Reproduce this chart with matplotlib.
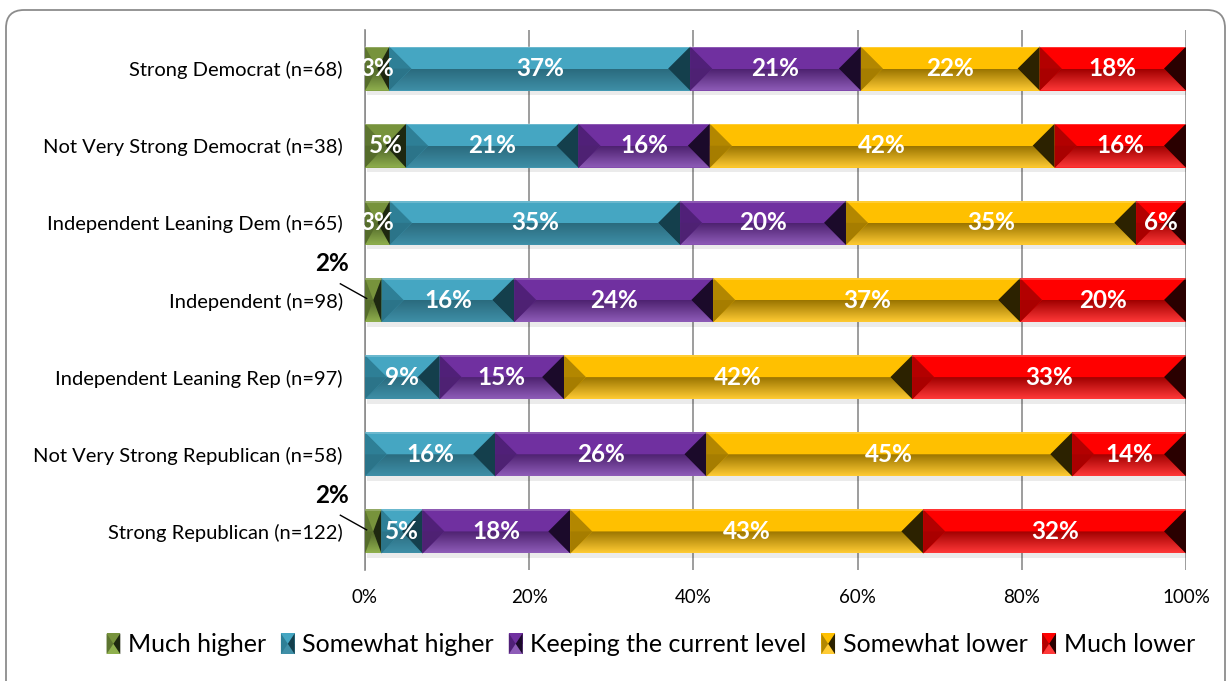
import numpy as np
import matplotlib
matplotlib.use("Agg")
import matplotlib.pyplot as plt
from matplotlib.patches import Polygon, FancyBboxPatch, Patch
from matplotlib.colors import LinearSegmentedColormap
from matplotlib.legend_handler import HandlerBase

plt.rcParams['font.family'] = ['Lato', 'DejaVu Sans']

categories = ['Strong Democrat (n=68)', 'Not Very Strong Democrat (n=38)',
              'Independent Leaning Dem (n=65)', 'Independent (n=98)',
              'Independent Leaning Rep (n=97)', 'Not Very Strong Republican (n=58)',
              'Strong Republican (n=122)']
series = ['Much higher', 'Somewhat higher', 'Keeping the current level',
          'Somewhat lower', 'Much lower']
much_higher = [3, 5, 3, 2, 0, 0, 2]
somewhat_higher = [37, 21, 35, 16, 9, 16, 5]
keeping = [21, 16, 20, 24, 15, 26, 18]
somewhat_lower = [22, 42, 35, 37, 42, 45, 43]
much_lower = [18, 16, 6, 20, 33, 14, 32]
ticks = [0, 20, 40, 60, 80, 100]

# (top, bottom dark, bottom light, left bevel, right bevel)
colors = [
    ('#77933C', '#4F6428', '#8FB04E', '#5D7530', '#1E2810'),
    ('#45A6C2', '#2A6B7E', '#3F8FA7', '#2E7F96', '#143F4C'),
    ('#7030A0', '#4E2270', '#8E5CB8', '#502078', '#1B0A2A'),
    ('#FFC000', '#9A7400', '#FFCB33', '#B38700', '#2C2200'),
    ('#FF0000', '#A00000', '#FF3838', '#B30000', '#2A0000'),
]

data = np.array([much_higher, somewhat_higher, keeping, somewhat_lower, much_lower], float)
shares = data / data.sum(axis=0) * 100
lefts = np.vstack([np.zeros(len(categories)), np.cumsum(shares, axis=0)[:-1]])

fig = plt.figure(figsize=(12.3, 6.81), dpi=100)

# background frame
bg = fig.add_axes([0, 0, 1, 1], zorder=-5)
bg.set_xlim(0, 1230)
bg.set_ylim(681, 0)
bg.axis('off')
bg.add_patch(FancyBboxPatch((6, 10), 1219, 720, boxstyle='round,pad=0,rounding_size=18',
                            fc='white', ec='#8C8C8C', lw=1.3))

ax = fig.add_axes([365 / 1230, 1 - 570 / 681, 821 / 1230, 540 / 681])
ax.patch.set_alpha(0)
y = np.arange(len(categories))
h = 0.57
bev = 2.68

for i in range(len(series)):
    ctop, cdark, clight, cl, cr = colors[i]
    cmap = LinearSegmentedColormap.from_list('g%d' % i, [cdark, clight])
    bars = ax.barh(y, shares[i], left=lefts[i], height=h, color=ctop, zorder=3)
    for j, b in enumerate(bars):
        x0 = b.get_x()
        x1 = x0 + b.get_width()
        if x1 - x0 <= 0:
            continue
        yc = y[j]
        yt = yc - h / 2
        yb = yc + h / 2
        w = min(bev, (x1 - x0) / 2)
        # shadow
        ax.add_patch(Polygon([(x0 + 0.2, yt + 0.06), (x1 + 0.2, yt + 0.06),
                              (x1 + 0.2, yb + 0.06), (x0 + 0.2, yb + 0.06)],
                             fc='black', alpha=0.08, lw=0, zorder=2))
        bottom = Polygon([(x0, yb), (x0 + w, yc), (x1 - w, yc), (x1, yb)],
                         fc='none', lw=0)
        ax.add_patch(bottom)
        im = ax.imshow(np.linspace(0, 1, 60).reshape(-1, 1), cmap=cmap, aspect='auto',
                       origin='lower', extent=(x0, x1, yc, yb), zorder=4)
        im.set_clip_path(bottom)
        ax.add_patch(Polygon([(x0, yt), (x0 + w, yc), (x0, yb)], fc=cl, lw=0, zorder=5))
        ax.add_patch(Polygon([(x0, yc), (x0 + w, yc), (x0, yb)], fc=cdark, lw=0,
                             alpha=0.5, zorder=5))
        ax.add_patch(Polygon([(x1, yt), (x1 - w, yc), (x1, yb)], fc=cr, lw=0, zorder=5))
        ax.plot([x0, x1], [yt + 0.01, yt + 0.01], color='white', alpha=0.25, lw=1.2,
                zorder=6, solid_capstyle='butt')
        v = data[i, j]
        if v >= 3:
            ax.text((x0 + x1) / 2, yc, '%d%%' % v, ha='center', va='center',
                    color='white', fontsize=17.5, fontweight='bold', zorder=7)
        elif v > 0:
            ax.plot([x0 - 3.0, x0 + 0.2], [yc - 0.21, yc - 0.02], color='black', lw=1,
                    clip_on=False, zorder=7)
            ax.text(x0 - 4.0, yc - 0.47, '%d%%' % v, ha='center', va='center',
                    fontsize=17.5, fontweight='bold', color='black')

ax.set_xlim(0, 100)
ax.set_ylim(len(categories) - 0.5, -0.5)
ax.set_xticks(ticks)
ax.set_xticklabels(['%d%%' % t for t in ticks], fontsize=13.5)
ax.set_yticks(y)
ax.set_yticklabels(categories, fontsize=14.5)
ax.tick_params(axis='y', length=0, pad=16)
ax.tick_params(axis='x', length=0, pad=14)
ax.grid(axis='x', color='#8C8C8C', lw=1.2, zorder=0)
for s in ['top', 'right', 'bottom']:
    ax.spines[s].set_visible(False)
ax.spines['left'].set_color('#8C8C8C')
ax.spines['left'].set_linewidth(1.2)


class BevelHandler(HandlerBase):
    def __init__(self, cols):
        super().__init__()
        self.cols = cols

    def create_artists(self, legend, orig_handle, xdescent, ydescent, width, height,
                       fontsize, trans):
        ctop, cdark, clight, cl, cr = self.cols[orig_handle.get_label()]
        x0, y0 = -xdescent, -ydescent
        x1, y1 = x0 + width, y0 + height
        ym = (y0 + y1) / 2
        xm = (x0 + x1) / 2
        arts = [
            Polygon([(x0, y1), (x1, y1), (x1, ym), (x0, ym)], fc=ctop, lw=0),
            Polygon([(x0, ym), (x1, ym), (x1, y0), (x0, y0)], fc=clight, lw=0),
            Polygon([(x0, y1), (xm, ym), (x0, y0)], fc=cl, lw=0),
            Polygon([(x1, y1), (xm, ym), (x1, y0)], fc=cr, lw=0),
        ]
        for a in arts:
            a.set_transform(trans)
        return arts


handles = [Patch(label=s) for s in series]
fig.legend(handles, series, loc='center', bbox_to_anchor=(0.529, 0.053), ncol=5,
           frameon=False, fontsize=18, handlelength=0.55, handleheight=0.9,
           handletextpad=0.3, columnspacing=0.6,
           handler_map={Patch: BevelHandler(dict(zip(series, colors)))})

fig.savefig('out.png', dpi=100)
